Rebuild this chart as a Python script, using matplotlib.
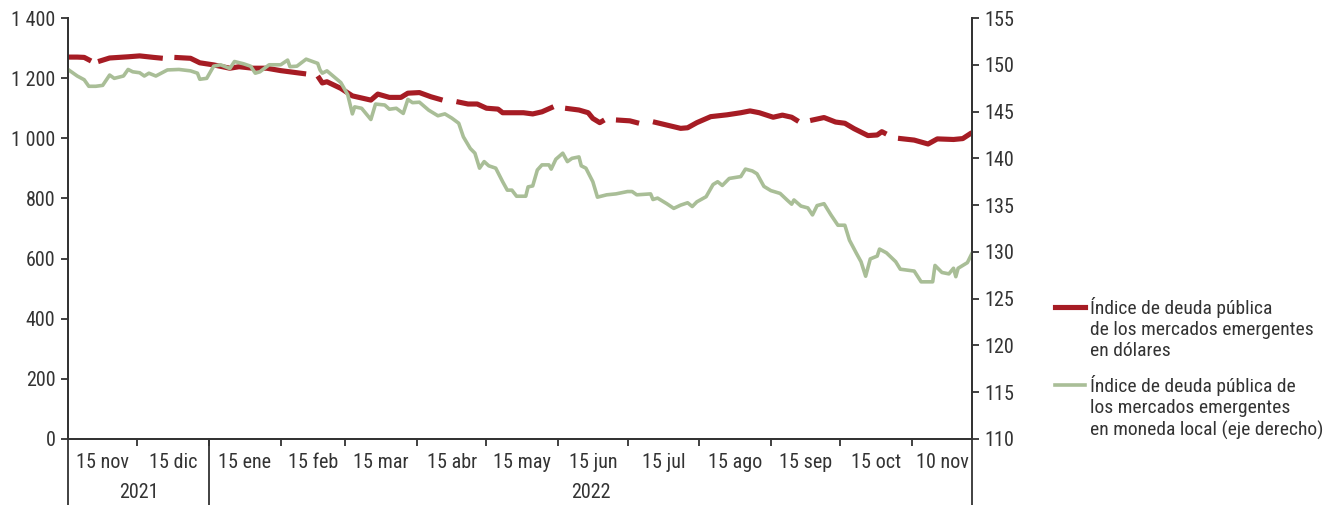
import numpy as np
import pandas as pd
import matplotlib
matplotlib.use('Agg')
import matplotlib.pyplot as plt
from matplotlib import font_manager
from matplotlib.lines import Line2D
from matplotlib.transforms import blended_transform_factory

# buscar una fuente estrecha instalada (el original usa una condensada)
nombres = {f.name for f in font_manager.fontManager.ttflist}
estrechas = sorted({f.name for f in font_manager.fontManager.ttflist
                    if f.stretch in ('condensed', 'semi-condensed', 'extra-condensed')})
preferidas = ['Roboto Condensed', 'Liberation Sans Narrow', 'Open Sans Condensed',
              'Noto Sans Condensed', 'DejaVu Sans Condensed'] + estrechas
fuente = next((n for n in preferidas if n in nombres), 'Roboto')
plt.rcParams['font.family'] = [fuente, 'DejaVu Sans']
ESTRECHA = fuente != 'Roboto'

inicio = pd.Timestamp('2021-11-01')
fin = pd.Timestamp('2022-11-27')

# días desde el 1 nov 2021; NaN = sin dato (huecos de la serie en dólares)
dias_usd = [0, 4, 7, 10, 11, 13, 18, 26, 31, 37, 41, 44, 46, 53, 57, 63, 70, 74, 80, 86,
            92, 96, 103, 105, 108, 110, 112, 118, 123, 131, 134, 139, 144, 147, 152, 157,
            162, 165, 168, 173, 177, 181, 186, 188, 197, 201, 205, 210, 212, 215, 221, 225,
            227, 230, 232, 235, 237, 243, 247, 250, 253, 259, 265, 268, 272, 278, 285, 291,
            295, 299, 305, 309, 313, 316, 318, 321, 327, 332, 336, 340, 346, 350, 352, 354,
            357, 359, 366, 372, 376, 383, 387, 391]
usd = [1270, 1270, 1269, 1257, np.nan, 1255, 1267, 1271, 1274, 1269, 1266, np.nan, 1269,
       1266, 1251, 1244, 1233, 1238, 1233, 1233, 1225, 1221, 1214, np.nan, 1207, 1184, 1188,
       1166, 1141, 1127, 1147, 1136, 1136, 1150, 1152, 1138, 1127, np.nan, 1122, 1114, 1114,
       1100, 1097, 1085, 1085, 1081, 1088, 1105, np.nan, 1100, 1094, 1085, 1066, 1052, 1061,
       np.nan, 1061, 1058, 1050, np.nan, 1055, 1044, 1033, 1035, 1052, 1072, 1078, 1085,
       1091, 1085, 1070, 1077, 1070, 1056, np.nan, 1059, 1069, 1054, 1050, 1032, 1009, 1011,
       1022, 1014, np.nan, 1000, 994, 981, 998, 996, 999, 1019]

dias_local = [0, 4, 7, 9, 12, 15, 18, 20, 24, 26, 28, 31, 33, 35, 38, 43, 48, 53, 56, 57,
              60, 63, 66, 70, 72, 76, 79, 81, 83, 87, 92, 95, 96, 99, 103, 108, 109, 110, 112,
              118, 121, 123, 124, 127, 131, 133, 137, 139, 142, 145, 147, 149, 152, 156, 160,
              163, 166, 169, 171, 174, 176, 178, 180, 182, 185, 188, 190, 192, 194, 198, 199,
              201, 203, 205, 208, 209, 211, 214, 216, 218, 221, 222, 224, 227, 229, 233, 237,
              242, 244, 246, 252, 253, 255, 259, 262, 265, 268, 270, 272, 276, 279, 281, 283,
              286, 291, 293, 296, 298, 301, 304, 308, 311, 313, 314, 317, 320, 322, 324, 327,
              330, 333, 336, 338, 341, 343, 345, 347, 350, 351, 354, 358, 360, 363, 366, 369,
              374, 375, 378, 381, 383, 384, 385, 389, 391]
local = [149.5, 148.8, 148.4, 147.7, 147.7, 147.8, 148.9, 148.55, 148.8, 149.5, 149.25,
         149.15, 148.8, 149.1, 148.8, 149.45, 149.5, 149.35, 149.1, 148.45, 148.55, 149.85,
         150.0, 149.6, 150.35, 150.1, 149.85, 149.1, 149.25, 150.0, 150.0, 150.5, 149.8,
         149.85, 150.6, 150.15, 149.45, 149.1, 149.35, 148.1, 146.8, 144.75, 145.5, 145.35,
         144.15, 145.8, 145.7, 145.25, 145.35, 144.8, 146.3, 145.95, 146.0, 145.15, 144.55,
         144.75, 144.3, 143.75, 142.3, 141.05, 140.55, 138.95, 139.65, 139.2, 138.95, 137.5,
         136.6, 136.6, 135.95, 135.95, 136.95, 137.05, 138.75, 139.3, 139.3, 138.85, 139.9,
         140.55, 139.65, 140.0, 140.15, 139.2, 138.95, 137.5, 135.85, 136.1, 136.2, 136.45,
         136.45, 136.1, 136.2, 135.6, 135.75, 135.15, 134.65, 135.0, 135.25, 134.85, 135.35,
         135.9, 137.2, 137.5, 137.1, 137.85, 138.05, 138.85, 138.65, 138.35, 137.0, 136.55,
         136.25, 135.55, 135.1, 135.55, 134.9, 134.7, 133.95, 134.95, 135.15, 133.95, 132.85,
         132.85, 131.25, 129.85, 128.95, 127.4, 129.25, 129.55, 130.3, 129.9, 128.95, 128.15,
         128.05, 127.95, 126.8, 126.8, 128.55, 127.8, 127.65, 128.25, 127.35, 128.25, 128.85,
         129.85]

etiquetas_mes = ['15 nov', '15 dic', '15 ene', '15 feb', '15 mar', '15 abr', '15 may',
                 '15 jun', '15 jul', '15 ago', '15 sep', '15 oct', '10 nov']
anios = ['2021', '2022']
nombre_usd = 'Índice de deuda pública\nde los mercados emergentes\nen dólares'
nombre_local = 'Índice de deuda pública de\nlos mercados emergentes\nen moneda local (eje derecho)'

ROJO = '#a61c24'
VERDE = '#a9be97'
GRIS = '#333333'
FS = 14.5 if ESTRECHA else 12
FS_LEY = 14 if ESTRECHA else 11

fechas_usd = inicio + pd.to_timedelta(dias_usd, unit='D')
fechas_local = inicio + pd.to_timedelta(dias_local, unit='D')

fig = plt.figure(figsize=(13.35, 5.05), dpi=100)
ax = fig.add_axes([68 / 1335, 1 - 439 / 505, (972 - 68) / 1335, (439 - 18) / 505])
ax2 = ax.twinx()

ax.plot(fechas_usd, usd, color=ROJO, lw=3.7, solid_capstyle='butt')
ax2.plot(fechas_local, local, color=VERDE, lw=2.6, solid_joinstyle='round')

ax.set_ylim(0, 1400)
ax.set_yticks(range(0, 1401, 200))
ax.set_yticklabels([f'{v:,}'.replace(',', ' ') for v in range(0, 1401, 200)])
ax2.set_ylim(110, 155)
ax2.set_yticks(range(110, 156, 5))
ax.set_xlim(inicio, fin)

# meses: marcas en el inicio de cada mes, etiquetas centradas en el mes
inicios_mes = list(pd.date_range('2021-11-01', '2022-11-01', freq='MS'))
limites = inicios_mes + [fin]
centros = [a + (b - a) / 2 for a, b in zip(limites[:-1], limites[1:])]
ax.set_xticks(inicios_mes[1:])
ax.set_xticklabels([''] * (len(inicios_mes) - 1))
ax.set_xticks(centros, minor=True)
ax.set_xticklabels(etiquetas_mes, minor=True)
ax.tick_params(axis='x', which='major', direction='out', length=5, width=1.3, color=GRIS)
ax.tick_params(axis='x', which='minor', length=0, pad=10, labelsize=FS, labelcolor=GRIS)

for a in (ax, ax2):
    a.tick_params(axis='y', direction='out', length=5, width=1.3, color=GRIS,
                  labelsize=FS, labelcolor=GRIS, pad=4)
    a.spines['top'].set_visible(False)
    for s in ('left', 'right', 'bottom'):
        a.spines[s].set_color(GRIS)
        a.spines[s].set_linewidth(1.3)

# separadores de año y etiquetas de año
trans = blended_transform_factory(ax.transData, ax.transAxes)
corte = pd.Timestamp('2022-01-01')
for d in (inicio, corte, fin):
    ax.plot([d, d], [0, -0.157], transform=trans, clip_on=False, color=GRIS, lw=1.3)
for txt, (a, b) in zip(anios, [(inicio, corte), (corte, fin)]):
    ax.text(a + (b - a) / 2, -0.128, txt, transform=trans, ha='center', va='center',
            fontsize=FS, color=GRIS)

# leyenda
for y_h, col, lw, txt in [(307, ROJO, 3.7, nombre_usd), (385, VERDE, 2.6, nombre_local)]:
    fig.add_artist(Line2D([1055 / 1335, 1085 / 1335], [1 - y_h / 505] * 2, color=col, lw=lw))
    fig.text(1090 / 1335, 1 - (y_h - 10) / 505, txt, ha='left', va='top', fontsize=FS_LEY,
             color=GRIS, linespacing=1.22)

fig.savefig('out.png', dpi=100)
